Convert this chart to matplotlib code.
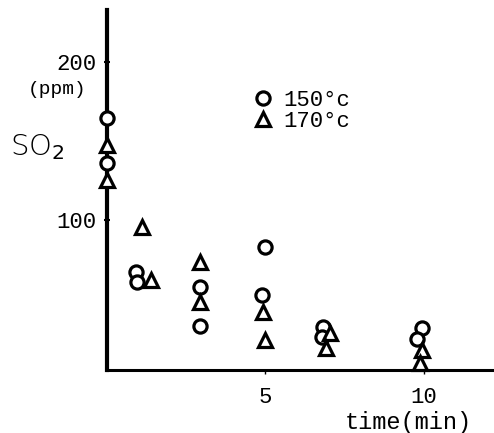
import matplotlib.pyplot as plt

# SO2 concentration (ppm) vs time (min) at two temperatures
t_150 = [0, 0, 0.9, 0.95, 2.92, 2.92, 4.98, 4.88, 6.8, 6.77, 9.93, 9.77]
so2_150 = [164.6, 136, 67.3, 61, 57.4, 32.9, 82.7, 52.5, 32.5, 25.8, 31.8, 24.5]

t_170 = [0, 0, 1.09, 1.38, 2.92, 2.92, 4.93, 4.98, 7.03, 6.9, 9.93, 9.87]
so2_170 = [147.5, 125.3, 95.6, 62, 73.6, 48.3, 42, 24, 28.3, 18.8, 17.7, 9.7]

x_ticks = [5, 10]
y_ticks = [100, 200]

mono = 'Liberation Mono'

fig = plt.figure(figsize=(4.94, 4.33), dpi=100)
ax = fig.add_axes([107 / 494, 63 / 433, 387 / 494, 360 / 433])

ax.plot(t_150, so2_150, 'o', ms=9.5, mfc='white', mec='black', mew=2.3,
        ls='none', clip_on=False, zorder=3, label='150°c')
ax.plot(t_170, so2_170, '^', ms=10, mfc='white', mec='black', mew=2.3,
        ls='none', clip_on=False, zorder=3, label='170°c')

ax.set_xlim(0, 12.21)
ax.set_ylim(5, 233)

for s in ['top', 'right']:
    ax.spines[s].set_visible(False)
ax.spines['left'].set_linewidth(3)
ax.spines['bottom'].set_linewidth(2.2)

ax.set_xticks(x_ticks)
ax.set_xticklabels([str(v) for v in x_ticks], fontfamily=mono, fontsize=16)
ax.set_yticks(y_ticks)
ax.set_yticklabels([str(v) for v in y_ticks], fontfamily=mono, fontsize=16)
ax.tick_params(axis='x', direction='out', length=3, width=1, pad=9)
ax.tick_params(axis='y', direction='inout', length=5, width=1.5, pad=5)

fig.text(57 / 494, 1 - 90 / 433, '(ppm)', fontfamily=mono, fontsize=14,
         ha='center', va='center')
fig.text(10 / 494, 1 - 147 / 433, 'SO$_2$', fontsize=21, fontweight='light',
         ha='left', va='center')
fig.text(408 / 494, 1 - 422 / 433, 'time(min)', fontfamily=mono, fontsize=17,
         ha='center', va='center')

leg = ax.legend(loc='upper left', bbox_to_anchor=(132 / 387, 1 - 69 / 360),
                frameon=False, handletextpad=0.3, labelspacing=0.0,
                borderpad=0, handlelength=1.2, prop={'family': mono, 'size': 16})

fig.savefig('out.png', dpi=100)
